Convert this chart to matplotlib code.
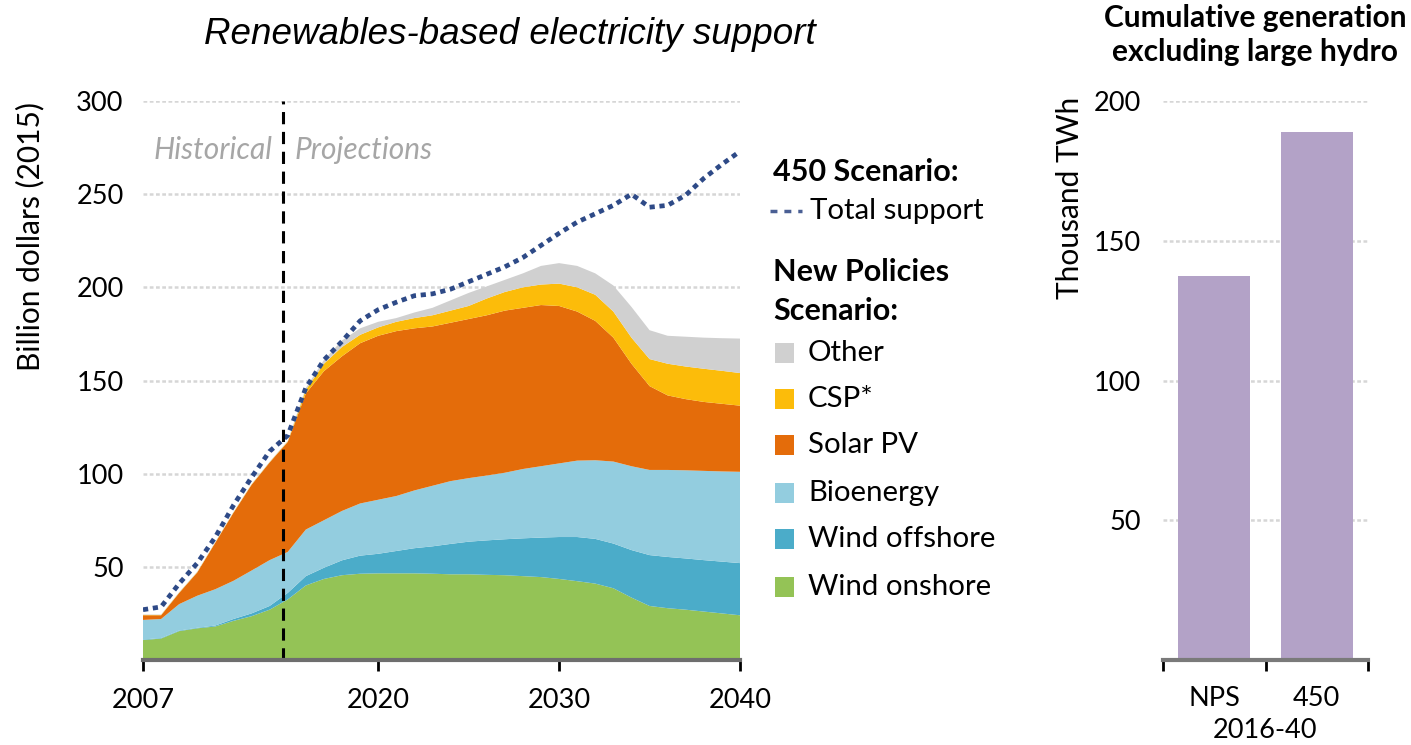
import matplotlib
matplotlib.use('Agg')
import matplotlib.pyplot as plt
from matplotlib.patches import Rectangle
from matplotlib.lines import Line2D

plt.rcParams['font.family'] = ['Lato', 'DejaVu Sans']

# ---- data (billion USD 2015) ----
years = list(range(2007, 2041))

wind_onshore = [10.7, 11.5, 15.5, 17, 18, 21, 23.5, 27, 32.5, 40, 43.5, 45.5, 46.3, 46.5,
                46.5, 46.5, 46.3, 46, 46, 45.7, 45.5, 45, 44.5, 43.5, 42.3, 41, 38.5, 33.5,
                29, 27.8, 27, 26, 25, 24]
wind_offshore = [0.3, 0.3, 0.3, 0.3, 0.5, 1, 1.5, 2, 3.5, 5, 6, 8, 9.7, 10.5,
                 12, 13.5, 14.7, 16.3, 17.5, 18.5, 19.3, 20.3, 21.2, 22.5, 23.7, 24, 24, 25.5,
                 27.3, 27.5, 27.5, 27.6, 27.8, 28]
bioenergy = [10.5, 10.2, 14.2, 17.2, 19.5, 20.5, 23, 24.6, 22, 25, 25.5, 26.5, 28, 29,
             29.5, 31, 32.5, 33.7, 34.1, 34.8, 35.7, 37.2, 38.3, 39.5, 41, 42.2, 44, 45,
             45.7, 46.7, 47.3, 47.9, 48.4, 49]
solar_pv = [2.5, 2, 6, 12.5, 25, 36.5, 46, 52.4, 59, 73, 80, 83, 86, 88,
            88.5, 87, 85.5, 85, 85.4, 86, 87, 86.5, 86.5, 84.5, 80, 74.8, 66.5, 55,
            45, 40, 38.2, 37, 36.3, 35.5]
csp = [0.2, 0.2, 0.2, 0.2, 0.2, 0.2, 0.2, 0.2, 0.3, 2, 4, 5, 4.5, 4.5,
       5, 5.5, 6, 6.5, 7, 9, 10, 11, 11, 12, 13, 14, 14, 14,
       14.5, 17, 17.5, 17.8, 17.7, 17.5]
other = [0.2, 0.2, 0.2, 0.2, 0.2, 0.2, 0.2, 0.2, 0.3, 1, 2, 3.5, 3.5, 3,
         2, 3, 4, 5.5, 7, 6.5, 6.5, 7.5, 10, 11, 11.5, 11.5, 14, 16.5,
         15.5, 15, 16, 16.7, 17.5, 18.5]
total_450 = [27, 28.5, 41, 52, 66, 83, 98, 112, 120.5, 146, 161, 171, 182, 188,
             192, 195.5, 196.5, 199, 203, 207, 211, 216, 222.5, 229, 235, 239.5, 244, 250,
             243, 244, 249.5, 258.5, 266, 273]

layer_names = ['Wind onshore', 'Wind offshore', 'Bioenergy', 'Solar PV', 'CSP*', 'Other']
layer_colors = ['#94C356', '#4BACC9', '#93CDDF', '#E46C0A', '#FCBC0A', '#D0D0D0']

bar_labels = ['NPS', '450']
cumulative_gen = [137.5, 189]   # thousand TWh, 2016-40

W, H = 1411, 745
fig = plt.figure(figsize=(W / 100, H / 100), dpi=100)


def fx(px):
    return px / W


def fy(py):
    return 1 - py / H


grid_kw = dict(color='#D6D6D6', linestyle=(0, (1.5, 1)), linewidth=1.8)
TICK = 19.5
TXT = 21.2

# ---- left panel: stacked areas ----
ax = fig.add_axes([fx(143), fy(660), fx(740) - fx(143), fy(101) - fy(660)])
ax.stackplot(years, wind_onshore, wind_offshore, bioenergy, solar_pv, csp, other,
             colors=layer_colors, linewidth=0)
ax.plot(years, total_450, color='#2E4A87', linewidth=3.4,
        linestyle=(0, (1.1, 1.0)), dash_capstyle='butt')
ax.axvline(2014.75, color='black', linewidth=2.2, linestyle=(0, (4, 2.5)))

ax.set_xlim(2007, 2040)
ax.set_ylim(0, 300)
ax.set_yticks([50, 100, 150, 200, 250, 300])
ax.set_xticks([2007, 2020, 2030, 2040])
ax.grid(axis='y', **grid_kw)
ax.set_axisbelow(True)
for s in ['top', 'right', 'left']:
    ax.spines[s].set_visible(False)
ax.spines['bottom'].set_color('#6E6E6E')
ax.spines['bottom'].set_linewidth(3)
ax.tick_params(axis='x', length=8, width=2, color='black', pad=12, labelsize=TICK)
ax.tick_params(axis='y', length=0, pad=14, labelsize=TICK)

ax.text(0.117, 0.913, 'Historical', transform=ax.transAxes, ha='center', va='center',
        fontsize=21.5, fontstyle='italic', color='#A6A6A6')
ax.text(0.37, 0.913, 'Projections', transform=ax.transAxes, ha='center', va='center',
        fontsize=21.5, fontstyle='italic', color='#A6A6A6')

fig.text(fx(510), fy(35), 'Renewables-based electricity support', ha='center', va='center',
         fontsize=26.5, fontstyle='italic', family='Liberation Sans')
fig.text(fx(30), fy(236), 'Billion dollars (2015)', rotation=90, ha='center', va='center',
         fontsize=21.5)

# ---- legend ----
fig.text(fx(773), fy(172), '450 Scenario:', ha='left', va='center', fontsize=22, fontweight='bold')
fig.add_artist(Line2D([fx(770), fx(802)], [fy(211), fy(211)], transform=fig.transFigure,
                      color='#4A5F94', linewidth=2.5, linestyle=(0, (2, 2))))
fig.text(fx(810), fy(211), 'Total support', ha='left', va='center', fontsize=TXT)
fig.text(fx(773), fy(272), 'New Policies', ha='left', va='center', fontsize=22, fontweight='bold')
fig.text(fx(773), fy(311), 'Scenario:', ha='left', va='center', fontsize=22, fontweight='bold')

legend_rows = [353, 399, 445, 493, 539, 587]
for name, col, row in zip(layer_names[::-1], layer_colors[::-1], legend_rows):
    fig.add_artist(Rectangle((fx(775), fy(row + 10)), fx(19), 20 / H,
                             transform=fig.transFigure, color=col, linewidth=0))
    fig.text(fx(808), fy(row), name, ha='left', va='center', fontsize=TXT)

# ---- right panel: bars ----
ax2 = fig.add_axes([fx(1163), fy(660), fx(1368) - fx(1163), fy(101) - fy(660)])
ax2.bar(range(len(bar_labels)), cumulative_gen, width=0.7, color='#B3A2C7')
ax2.set_xlim(-0.5, 1.5)
ax2.set_ylim(0, 200)
ax2.set_yticks([50, 100, 150, 200])
ax2.set_xticks(range(len(bar_labels)))
ax2.set_xticklabels(bar_labels)
ax2.set_xticks([-0.5, 0.5, 1.5], minor=True)
ax2.grid(axis='y', **grid_kw)
ax2.set_axisbelow(True)
for s in ['top', 'right', 'left']:
    ax2.spines[s].set_visible(False)
ax2.spines['bottom'].set_color('#7A7A7A')
ax2.spines['bottom'].set_linewidth(3)
ax2.tick_params(axis='x', which='major', length=0, pad=19, labelsize=TICK)
ax2.tick_params(axis='x', which='minor', length=8, width=2, color='black')
ax2.tick_params(axis='y', length=0, pad=16, labelsize=TICK)

fig.text(fx(1265), fy(730), '2016-40', ha='center', va='center', fontsize=19.5)
fig.text(fx(1070), fy(198), 'Thousand TWh', rotation=90, ha='center', va='center', fontsize=21.5)
fig.text(fx(1255), fy(35), 'Cumulative generation\nexcluding large hydro', ha='center',
         va='center', fontsize=21.5, fontweight='bold', linespacing=1.25)

fig.savefig('out.png', dpi=100)
